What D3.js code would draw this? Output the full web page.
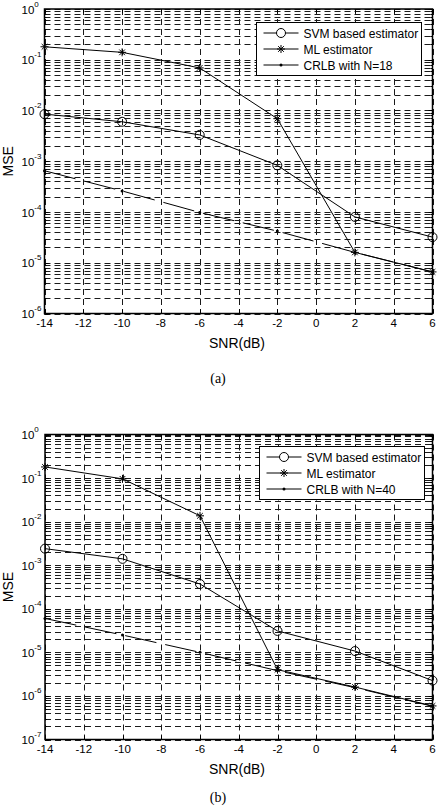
<!DOCTYPE html>
<html>
<head>
<meta charset="utf-8">
<script src="https://cdn.jsdelivr.net/npm/d3@7"></script>
<style>
  body { margin: 0; background: #fff; }
  svg { display: block; }
  text { font-family: "Liberation Sans", Arial, sans-serif; fill: #000; }
  .cap { font-family: "Liberation Serif", "Times New Roman", serif; }
</style>
</head>
<body>
<svg id="chart" width="440" height="806"></svg>
<script>
var snr = [-14, -10, -6, -2, 2, 6],
    xTicks = [-14, -12, -10, -8, -6, -4, -2, 0, 2, 4, 6];

// panel (a)
var svmA  = [8.5e-3, 6.0e-3, 3.3e-3, 8.3e-4, 8.0e-5, 3.2e-5],
    mlA   = [0.18, 0.14, 0.069, 6.9e-3, 1.6e-5, 6.6e-6],
    crlbA = [6.5e-4, 2.6e-4, 9.8e-5, 4.2e-5, 1.6e-5, 6.6e-6],
    decadesA = [0, -1, -2, -3, -4, -5, -6];

// panel (b)
var svmB  = [2.4e-3, 1.4e-3, 3.7e-4, 3.1e-5, 1.07e-5, 2.25e-6],
    mlB   = [0.18, 0.096, 0.0136, 4.0e-6, 1.6e-6, 5.9e-7],
    crlbB = [6.0e-5, 2.5e-5, 1.0e-5, 3.8e-6, 1.55e-6, 5.8e-7],
    decadesB = [0, -1, -2, -3, -4, -5, -6, -7];

var legendNames = ['SVM based estimator', 'ML estimator'];

var svg = d3.select('#chart');
svg.append('rect').attr('width', 440).attr('height', 806).attr('fill', '#fff');

function star( g, cx, cy, r ) {
  var p = '';
  for ( var k = 0; k < 4; k++ ) {
    var a = k * Math.PI / 4;
    p += 'M' + (cx - r * Math.cos(a)) + ',' + (cy - r * Math.sin(a)) +
         'L' + (cx + r * Math.cos(a)) + ',' + (cy + r * Math.sin(a));
  }
  g.append('path').attr('d', p).attr('stroke', '#000').attr('stroke-width', 1).attr('fill', 'none');
}

function drawPanel( cfg ) {
  var g = svg.append('g');
  var x = d3.scaleLinear().domain([-14, 6]).range([cfg.left, cfg.right]);
  var lo = d3.min(cfg.decades), hi = d3.max(cfg.decades);
  var y = d3.scaleLog().domain([Math.pow(10, lo), Math.pow(10, hi)]).range([cfg.bottom, cfg.top]);

  // minor + major grid values
  var yGrid = [];
  for ( var e = lo; e < hi; e++ ) {
    for ( var m = 1; m < 10; m++ ) yGrid.push(m * Math.pow(10, e));
  }
  yGrid.push(Math.pow(10, hi));

  var grid = g.append('g').attr('stroke', '#1a1a1a').attr('stroke-width', 1)
    .attr('stroke-dasharray', '6,4');
  grid.selectAll('line.h').data(yGrid).enter().append('line')
    .attr('x1', cfg.left).attr('x2', cfg.right)
    .attr('y1', function(d) { return Math.round(y(d)) + 0.5; })
    .attr('y2', function(d) { return Math.round(y(d)) + 0.5; });
  grid.selectAll('line.v').data(xTicks).enter().append('line')
    .attr('y1', cfg.top).attr('y2', cfg.bottom)
    .attr('x1', function(d) { return Math.round(x(d)) + 0.5; })
    .attr('x2', function(d) { return Math.round(x(d)) + 0.5; });

  // inner ticks
  var ticks = g.append('g').attr('stroke', '#000').attr('stroke-width', 1);
  xTicks.forEach(function(d) {
    var px = Math.round(x(d)) + 0.5;
    ticks.append('line').attr('x1', px).attr('x2', px).attr('y1', cfg.bottom).attr('y2', cfg.bottom - 4);
    ticks.append('line').attr('x1', px).attr('x2', px).attr('y1', cfg.top).attr('y2', cfg.top + 4);
  });
  yGrid.forEach(function(d) {
    var py = Math.round(y(d)) + 0.5,
        major = Math.abs(Math.log10(d) - Math.round(Math.log10(d))) < 1e-9,
        len = major ? 4 : 2;
    ticks.append('line').attr('x1', cfg.left).attr('x2', cfg.left + len).attr('y1', py).attr('y2', py);
    ticks.append('line').attr('x1', cfg.right).attr('x2', cfg.right - len).attr('y1', py).attr('y2', py);
  });

  // box
  g.append('rect').attr('x', cfg.left).attr('y', cfg.top)
    .attr('width', cfg.right - cfg.left).attr('height', cfg.bottom - cfg.top)
    .attr('fill', 'none').attr('stroke', '#000').attr('stroke-width', 1.5);

  // tick labels
  g.selectAll('text.xt').data(xTicks).enter().append('text')
    .attr('x', function(d) { return x(d); }).attr('y', cfg.bottom + 13.5)
    .attr('text-anchor', 'middle').attr('font-size', 11.5)
    .text(function(d) { return d; });
  cfg.decades.forEach(function(e) {
    var t = g.append('text').attr('x', 21.5).attr('y', y(Math.pow(10, e)) + 4.5).attr('font-size', 11.5);
    t.append('tspan').text('10');
    t.append('tspan').attr('dy', -7).attr('font-size', 8).text(e);
  });

  // axis labels
  g.append('text').attr('x', 237).attr('y', cfg.bottom + 34)
    .attr('text-anchor', 'middle').attr('font-size', 14).text('SNR(dB)');
  g.append('text').attr('transform', 'translate(13,' + ((cfg.top + cfg.bottom) / 2) + ') rotate(-90)')
    .attr('text-anchor', 'middle').attr('font-size', 14).text('MSE');
  g.append('text').attr('class', 'cap').attr('x', 218).attr('y', cfg.capY)
    .attr('text-anchor', 'middle').attr('font-size', 14).text(cfg.caption);

  // series
  var line = d3.line().x(function(d, i) { return x(snr[i]); }).y(function(d) { return y(d); });
  var lines = g.append('g').attr('fill', 'none').attr('stroke', '#000').attr('stroke-width', 1);
  lines.append('path').attr('d', line(cfg.crlb)).attr('stroke-dasharray', '32,9');
  lines.append('path').attr('d', line(cfg.svm));
  lines.append('path').attr('d', line(cfg.ml));

  cfg.svm.forEach(function(d, i) {
    g.append('circle').attr('cx', x(snr[i])).attr('cy', y(d)).attr('r', 4.5)
      .attr('fill', 'none').attr('stroke', '#000');
  });
  cfg.ml.forEach(function(d, i) { star(g, x(snr[i]), y(d), 4); });
  cfg.crlb.forEach(function(d, i) {
    g.append('circle').attr('cx', x(snr[i])).attr('cy', y(d)).attr('r', 1.5).attr('fill', '#000');
  });

  // legend
  var L = cfg.legend;
  g.append('rect').attr('x', L.x).attr('y', L.y).attr('width', L.w).attr('height', L.h)
    .attr('fill', '#fff').attr('stroke', '#000').attr('stroke-width', 1);
  var names = legendNames.concat(['CRLB with N=' + cfg.n]);
  names.forEach(function(name, i) {
    var ly = L.y + 10.5 + i * 16,
        x1 = L.x + 7, x2 = L.x + 42, xm = (x1 + x2) / 2;
    g.append('line').attr('x1', x1).attr('x2', x2).attr('y1', ly).attr('y2', ly).attr('stroke', '#000');
    if ( i === 0 ) g.append('circle').attr('cx', xm).attr('cy', ly).attr('r', 4.5).attr('fill', '#fff').attr('stroke', '#000');
    if ( i === 1 ) star(g, xm, ly, 4);
    if ( i === 2 ) g.append('circle').attr('cx', xm).attr('cy', ly).attr('r', 1.5).attr('fill', '#000');
    g.append('text').attr('x', L.x + 47).attr('y', ly + 4.5).attr('font-size', 12).text(name);
  });
}

drawPanel({ left: 44.5, right: 432.5, top: 9, bottom: 313.5, decades: decadesA,
  svm: svmA, ml: mlA, crlb: crlbA, n: 18, caption: '(a)', capY: 383,
  legend: { x: 256.5, y: 22.5, w: 165, h: 53 } });

drawPanel({ left: 45, right: 432.5, top: 434.5, bottom: 739.5, decades: decadesB,
  svm: svmB, ml: mlB, crlb: crlbB, n: 40, caption: '(b)', capY: 802,
  legend: { x: 259.5, y: 446.5, w: 165, h: 53 } });
</script>
</body>
</html>
